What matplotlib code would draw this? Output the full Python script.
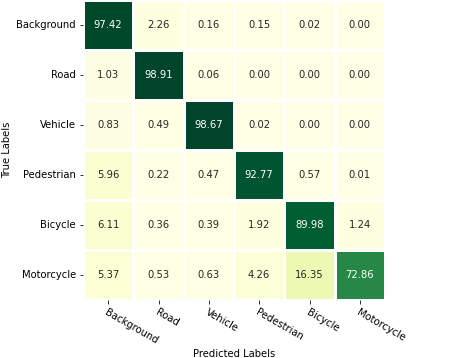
import matplotlib
matplotlib.use('Agg')
import matplotlib.pyplot as plt
import seaborn as sns
import numpy as np

labels = ['Background', 'Road', 'Vehicle', 'Pedestrian', 'Bicycle', 'Motorcycle']

# row-normalised confusion matrix (percent)
cm = np.array([
    [97.42, 2.26, 0.16, 0.15, 0.02, 0.00],
    [1.03, 98.91, 0.06, 0.00, 0.00, 0.00],
    [0.83, 0.49, 98.67, 0.02, 0.00, 0.00],
    [5.96, 0.22, 0.47, 92.77, 0.57, 0.01],
    [6.11, 0.36, 0.39, 1.92, 89.98, 1.24],
    [5.37, 0.53, 0.63, 4.26, 16.35, 72.86],
])

fig = plt.figure(figsize=(468 / 72, 358 / 72), dpi=72)
ax = fig.add_axes([83 / 468, 1 - 300 / 358, 302 / 468, 300 / 358])

sns.heatmap(cm, annot=True, fmt='.2f', cmap='YlGn', linewidths=3, linecolor='white',
            cbar=False, xticklabels=labels, yticklabels=labels, ax=ax,
            annot_kws={'fontsize': 10})

ax.set_xticklabels(labels, rotation=-30, ha='left', rotation_mode='anchor', fontsize=10)
ax.set_yticklabels(labels, rotation=0, fontsize=10)
ax.set_xlabel('Predicted Labels', fontsize=10)
ax.set_ylabel('True Labels', fontsize=10)

fig.savefig('out.png', dpi=72)
